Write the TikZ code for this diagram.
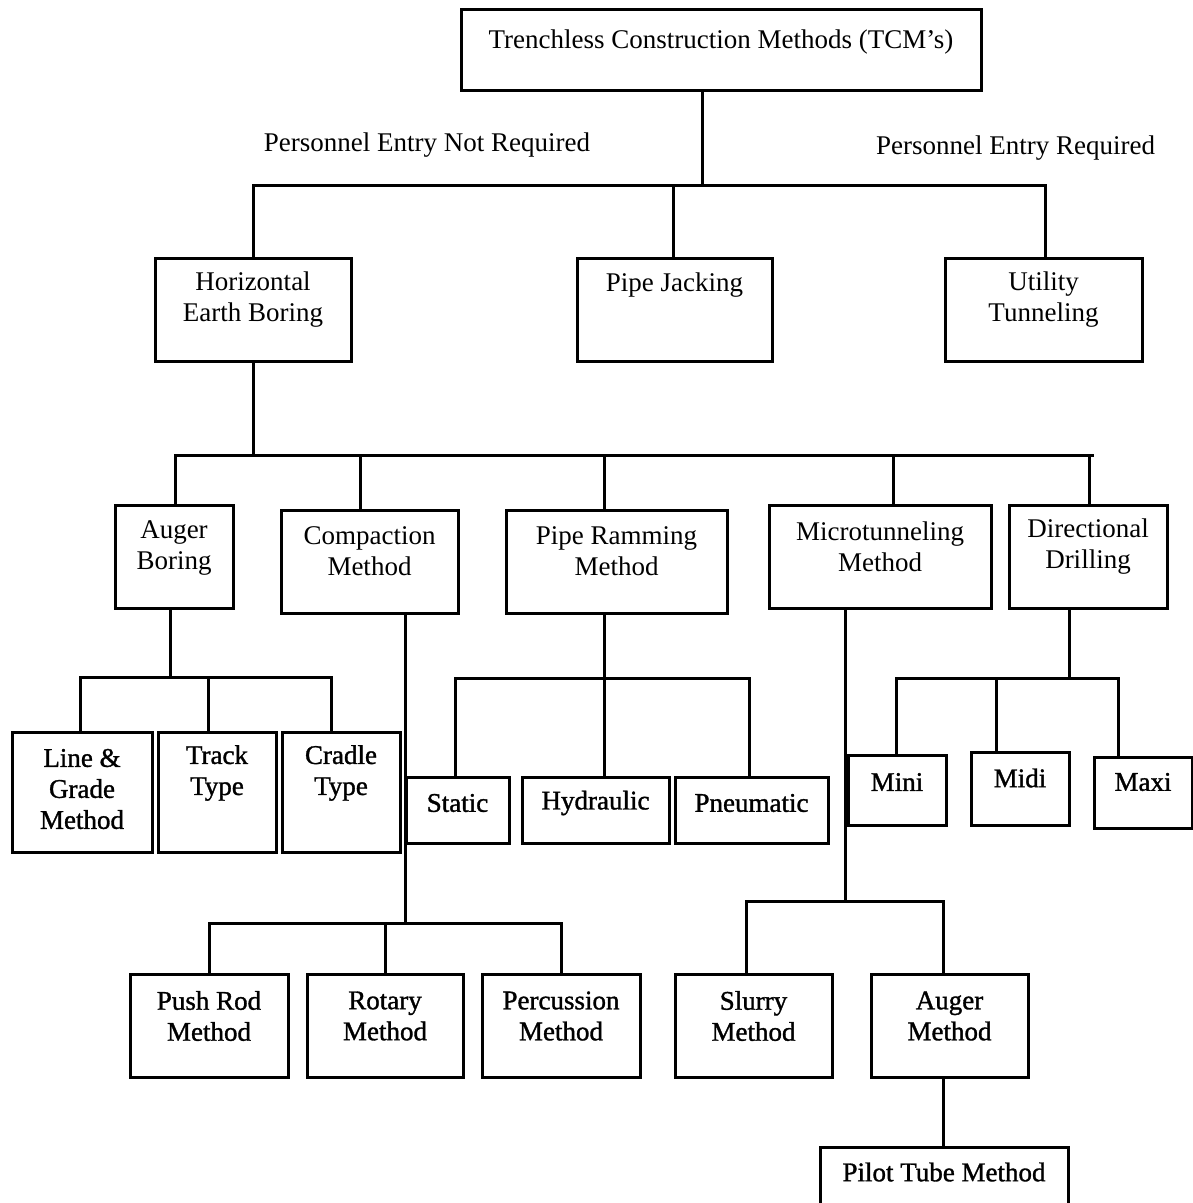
\documentclass[tikz,border=0pt]{standalone}
\usepackage{fontspec}
\setmainfont{Liberation Serif}
\newfontfamily\heavyserif[FakeBold=1.2]{Liberation Serif}
\tikzset{
  box/.style={draw, line width=3pt, inner sep=0pt},
  lbl/.style={align=center, inner sep=0pt, font=\fontsize{27}{31}\selectfont},
  conn/.style={line width=3pt}
}
\newcommand\mkbox[7]{%
  \node[box, minimum width=#4pt, minimum height=#5pt] (#1) at (#2,#3) {};
  \node[lbl] (#1-t) at (#2,#6) {#7};
}
\begin{document}
\begin{tikzpicture}[x=1pt,y=-1pt]
\useasboundingbox (0,0) rectangle (1193,1203);
% level 0
\mkbox{top}{721}{49.5}{520}{81}{42}{Trenchless Construction Methods (TCM’s)}
\node[lbl] (lnot) at (427,145) {Personnel Entry Not Required};
\node[lbl] (lreq) at (1015.5,148) {Personnel Entry Required};
% level 1
\mkbox{heb}{253}{309.5}{196}{103}{300}{Horizontal\\Earth Boring}
\mkbox{pj}{674.5}{309.5}{195}{103}{285}{Pipe Jacking}
\mkbox{ut}{1043.5}{309.5}{197}{103}{300}{Utility\\Tunneling}
% level 2
\mkbox{ab}{174}{556.5}{118}{103}{548}{Auger\\Boring}
\mkbox{cm}{369.5}{561.5}{177}{103}{551}{Compaction\\Method}
\mkbox{pr}{616.5}{561.5}{221}{103}{551}{Pipe Ramming\\Method}
\mkbox{mt}{880}{556.5}{222}{103}{547}{Microtunneling\\Method}
\mkbox{dd}{1088}{556.5}{158}{103}{547}{Directional\\Drilling}
% auger boring children
\mkbox{lg}{82}{792}{140}{120}{789}{\heavyserif Line \&\\\heavyserif Grade\\\heavyserif Method}
\mkbox{tt}{217}{792}{118}{120}{773}{\heavyserif Track\\\heavyserif Type}
\mkbox{ct}{341}{792}{118}{120}{773}{\heavyserif Cradle\\\heavyserif Type}
% pipe ramming children
\mkbox{st}{457.5}{810}{103}{66}{803}{\heavyserif Static}
\mkbox{hy}{595.5}{810}{147}{66}{803}{\heavyserif Hydraulic}
\mkbox{pn}{751.5}{810}{153}{66}{803}{\heavyserif Pneumatic}
% directional children
\mkbox{mini}{897}{790}{98}{70}{782}{\heavyserif Mini}
\mkbox{midi}{1020}{788.5}{98}{73}{778}{\heavyserif Midi}
\mkbox{maxi}{1143}{792.5}{98}{71}{782}{\heavyserif Maxi}
% compaction children
\mkbox{prm}{209}{1025.5}{158}{103}{1016}{\heavyserif Push Rod\\\heavyserif Method}
\mkbox{rot}{385}{1025.5}{156}{103}{1016}{\heavyserif Rotary\\\heavyserif Method}
\mkbox{per}{561}{1025.5}{158}{103}{1016}{\heavyserif Percussion\\\heavyserif Method}
% microtunneling children
\mkbox{sl}{753.5}{1025.5}{157}{103}{1016}{\heavyserif Slurry\\\heavyserif Method}
\mkbox{am}{949.5}{1025.5}{157}{103}{1016}{\heavyserif Auger\\\heavyserif Method}
\mkbox{pt}{944}{1181}{248}{68}{1172}{\heavyserif Pilot Tube Method}
% junction coordinates
\coordinate (j0) at (702,185);
\coordinate (j1) at (253,455);
\coordinate (j2) at (170,677);
\coordinate (j3) at (405,923);
\coordinate (j4) at (604,678);
\coordinate (j5) at (1069,678);
\coordinate (j6) at (845,901);
% connectors level 0-1
\draw[conn] (top.south -| j0) -- (j0);
\draw[conn] (heb.north) |- (j0) -| ([xshift=1.5pt]ut.north);
\draw[conn] ([xshift=-1.5pt]pj.north) -- ([xshift=-1.5pt]pj.north |- j0);
% level 1-2
\draw[conn] (heb.south) -- (j1);
\draw[conn] ([xshift=1pt]ab.north) |- ([xshift=6pt]dd.north |- j1);
\draw[conn] ([xshift=-9.5pt]cm.north) -- ([xshift=-9.5pt]cm.north |- j1);
\draw[conn] ([xshift=-12.5pt]pr.north) -- ([xshift=-12.5pt]pr.north |- j1);
\draw[conn] ([xshift=13pt]mt.north) -- ([xshift=13pt]mt.north |- j1);
\draw[conn] ([xshift=1pt]dd.north) -- ([xshift=1pt]dd.north |- j1);
% auger boring
\draw[conn] (ab.south -| j2) -- (j2);
\draw[conn] ([xshift=-2pt]lg.north) |- ([xshift=-10pt]ct.north |- j2) -- ([xshift=-10pt]ct.north);
\draw[conn] ([xshift=-9pt]tt.north) -- ([xshift=-9pt]tt.north |- j2);
% compaction
\draw[conn] (cm.south -| j3) -- (j3);
\draw[conn] (prm.north) |- (per.north |- j3) -- (per.north);
\draw[conn] (rot.north) -- (rot.north |- j3);
% pipe ramming
\draw[conn] (pr.south -| j4) -- (hy.north -| j4);
\draw[conn] ([xshift=-2.5pt]st.north) |- ([xshift=-2.5pt]pn.north |- j4) -- ([xshift=-2.5pt]pn.north);
% directional
\draw[conn] (dd.south -| j5) -- (j5);
\draw[conn] ([xshift=-1pt]mini.north) |- ([xshift=-25pt]maxi.north |- j5) -- ([xshift=-25pt]maxi.north);
\draw[conn] ([xshift=-24pt]midi.north) -- ([xshift=-24pt]midi.north |- j5);
% microtunneling
\draw[conn] (mt.south -| j6) -- (j6);
\draw[conn] ([xshift=-7.5pt]sl.north) |- ([xshift=-6.5pt]am.north |- j6) -- ([xshift=-6.5pt]am.north);
\draw[conn] ([xshift=-6.5pt]am.south) -- ([xshift=-6.5pt]am.south |- pt.north);
\end{tikzpicture}
\end{document}
